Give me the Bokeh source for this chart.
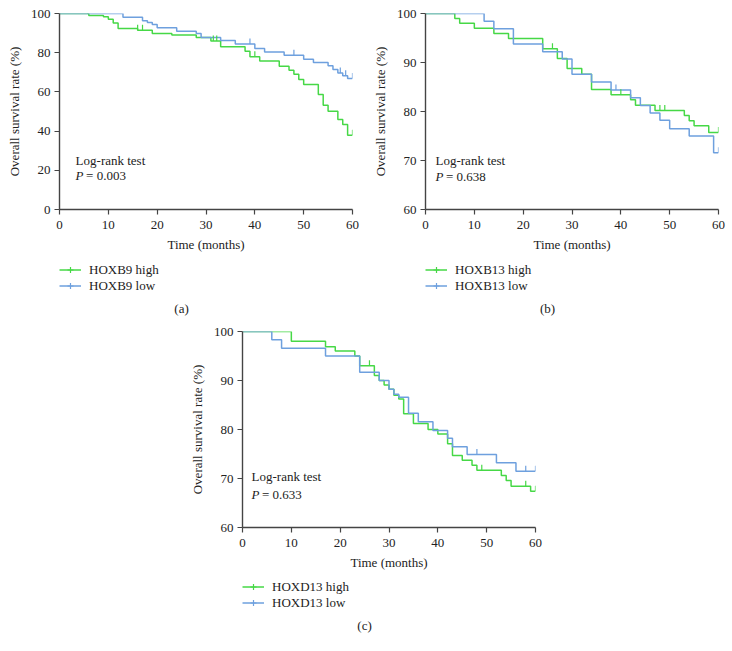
import numpy as np
from bokeh.plotting import figure
from bokeh.models import Range1d, Legend, LegendItem, Label, Spacer, FixedTicker
from bokeh.layouts import column, row
from bokeh.embed import file_html
from bokeh.resources import INLINE

# ---------------- data ----------------
x_ticks = [0, 10, 20, 30, 40, 50, 60]

# (a) HOXB9
a_names = ["HOXB9 high", "HOXB9 low"]
a_high_t = [0, 6, 9, 10, 11, 12, 16, 19, 23, 28, 31, 33, 38, 39, 41, 45, 47, 48, 49, 50, 53, 54, 55, 57, 58, 59]
a_high_s = [100, 99, 98.3, 97.1, 95.2, 92.3, 91.5, 89.8, 89, 87.8, 86, 83, 80.8, 77.9, 75.8, 73.1, 71.1, 69, 66.3, 63.8, 58.7, 53.2, 50.1, 45.9, 43.4, 37.9]
a_high_c = [5.8, 16, 17, 31.5, 32.2, 40, 60]
a_low_t = [0, 13, 17, 18, 19, 20, 24, 28, 29, 33, 36, 40, 42, 46, 50, 52, 55, 56, 57, 58, 59]
a_low_s = [100, 98.1, 96.3, 95.4, 94.4, 92.7, 91, 89.8, 87.8, 86.2, 84.4, 82.1, 80.4, 78.7, 76.7, 75, 73.3, 71.4, 69.7, 68.2, 66.8]
a_low_c = [39, 48, 57.5, 58.6, 60]
a_y_ticks = [0, 20, 40, 60, 80, 100]
a_p = "= 0.003"

# (b) HOXB13
b_names = ["HOXB13 high", "HOXB13 low"]
b_high_t = [0, 6, 7, 10, 14, 17, 24, 27, 29, 32, 34, 38, 42, 43, 47, 53, 54, 55, 58]
b_high_s = [100, 99, 98, 97, 95.9, 94.9, 92.8, 90.8, 88.8, 87.6, 84.5, 83.4, 82.4, 81.3, 80.2, 79.2, 78.1, 77.1, 75.7]
b_high_c = [26, 40, 48, 49, 60]
b_low_t = [0, 12, 14, 18, 24, 28, 30, 34, 38, 42, 44, 46, 48, 50, 54, 59]
b_low_s = [100, 98.4, 96.9, 93.8, 92.2, 90.7, 87.6, 86, 84.4, 82.8, 81.2, 79.7, 78.2, 76.5, 75, 71.6]
b_low_c = [39, 60]
b_y_ticks = [60, 70, 80, 90, 100]
b_p = "= 0.638"

# (c) HOXD13
c_names = ["HOXD13 high", "HOXD13 low"]
c_high_t = [0, 10, 17, 19, 23, 24, 27, 28, 29, 30, 31, 32, 33, 35, 38, 40, 42, 43, 45, 47, 48, 53, 54, 55, 59]
c_high_s = [100, 98, 96.9, 96, 95, 93, 91, 90, 89.1, 88.2, 87, 86.2, 83.2, 81.2, 80, 79.1, 77.1, 74.7, 73.7, 72.7, 71.7, 70.6, 69.6, 68.4, 67.4]
c_high_c = [26, 49, 58, 60]
c_low_t = [0, 6, 8, 17, 24, 28, 30, 31, 32, 34, 36, 39, 42, 43, 46, 52, 56]
c_low_s = [100, 98.3, 96.6, 95, 91.7, 90, 88.2, 87.2, 86.6, 83.3, 81.6, 79.8, 78.2, 76.5, 74.9, 73.2, 71.5]
c_low_c = [48, 58, 60]
c_y_ticks = [60, 70, 80, 90, 100]
c_p = "= 0.633"

GREEN = "#46d846"
BLUE = "#6ea0de"
FONT = "Liberation Serif"
AX = "#444444"
TXT = "#222222"
FRAME_W = 293
FRAME_H = 196


def step_vals(t, s, c):
    t = np.asarray(t, float)
    s = np.asarray(s, float)
    idx = np.searchsorted(t, np.asarray(c, float), side="right") - 1
    return s[idx]


def panel(mbl, mbr, mbt, ylo, yhi, yticks, ht, hs, hc, lt, ls, lc, txt_x, txt_y, p_y, ptext):
    mbb = 50
    p = figure(width=mbl + FRAME_W + mbr, height=mbt + FRAME_H + mbb,
               x_range=Range1d(0, 60), y_range=Range1d(ylo, yhi),
               output_backend="svg", toolbar_location=None,
               min_border_left=mbl, min_border_right=mbr, min_border_top=mbt, min_border_bottom=mbb)
    ppu = FRAME_H / (yhi - ylo)
    tick_h = 5.5 / ppu
    p.grid.visible = False
    p.outline_line_color = None
    p.xaxis.ticker = FixedTicker(ticks=x_ticks)
    p.yaxis.ticker = FixedTicker(ticks=yticks)
    p.xaxis.axis_label = "Time (months)"
    p.yaxis.axis_label = "Overall survival rate (%)"
    for ax in p.axis:
        ax.axis_line_color = AX
        ax.axis_line_width = 1.4
        ax.major_tick_line_color = AX
        ax.major_tick_line_width = 1.2
        ax.major_tick_out = 5
        ax.major_tick_in = 0
        ax.minor_tick_out = 0
        ax.minor_tick_in = 0
        ax.major_label_text_font = FONT
        ax.major_label_text_font_size = "13px"
        ax.major_label_text_color = TXT
        ax.axis_label_text_font = FONT
        ax.axis_label_text_font_size = "13px"
        ax.axis_label_text_font_style = "normal"
        ax.axis_label_text_color = TXT
    p.xaxis.major_label_standoff = 6
    p.xaxis.axis_label_standoff = 5
    p.yaxis.major_label_standoff = 4
    p.yaxis.axis_label_standoff = 6

    hx = list(ht) + [60]
    hy = list(hs) + [hs[-1]]
    lx = list(lt) + [60]
    ly = list(ls) + [ls[-1]]
    p.step(hx, hy, mode="after", line_color=GREEN, line_width=1.5)
    p.step(lx, ly, mode="after", line_color=BLUE, line_width=1.5)
    hcs = step_vals(ht, hs, hc)
    lcs = step_vals(lt, ls, lc)
    p.segment(x0=hc, y0=hcs, x1=hc, y1=hcs + tick_h, line_color=GREEN, line_width=1.2)
    p.segment(x0=lc, y0=lcs, x1=lc, y1=lcs + tick_h, line_color=BLUE, line_width=1.2)

    common = dict(text_font=FONT, text_font_size="13px", text_color=TXT, text_baseline="middle")
    p.add_layout(Label(x=txt_x, y=txt_y, text="Log-rank test", **common))
    p.add_layout(Label(x=txt_x, y=p_y, text="P", text_font_style="italic", **common))
    p.add_layout(Label(x=txt_x, y=p_y, x_offset=10.5, text=ptext, **common))
    return p


def legend_box(width, height, leg_y, cap_y, names, cap):
    # frame is aligned with the panel's frame above it by the column layout
    f = figure(width=width, height=height, x_range=Range1d(0, 60), y_range=Range1d(0, height),
               output_backend="svg", toolbar_location=None, x_axis_type=None, y_axis_type=None,
               min_border_left=0, min_border_right=0, min_border_top=0, min_border_bottom=0)
    f.grid.visible = False
    f.outline_line_color = None
    # legend proxies, placed outside the visible range
    gl = f.line(x=[-20, -10], y=[-50, -50], line_color=GREEN, line_width=1.5)
    gs = f.scatter(x=[-20], y=[-50], marker="cross", size=7, line_color=GREEN, line_width=1.2)
    bl = f.line(x=[-20, -10], y=[-50, -50], line_color=BLUE, line_width=1.5)
    bs = f.scatter(x=[-20], y=[-50], marker="cross", size=7, line_color=BLUE, line_width=1.2)
    leg = Legend(items=[LegendItem(label=names[0], renderers=[gl, gs], index=0),
                        LegendItem(label=names[1], renderers=[bl, bs], index=0)],
                 location=(0, leg_y), orientation="vertical",
                 glyph_width=22, glyph_height=15, label_height=15, label_standoff=8,
                 spacing=0, padding=0, margin=0,
                 label_text_font=FONT, label_text_font_size="13px", label_text_color=TXT,
                 border_line_alpha=0, background_fill_alpha=0)
    f.add_layout(leg)
    f.add_layout(Label(x=25, y=cap_y, text=cap, text_align="center", text_baseline="middle",
                       text_font=FONT, text_font_size="13px", text_color=TXT))
    return f


pa = panel(59, 16, 13, 0, 100, a_y_ticks, a_high_t, a_high_s, a_high_c,
           a_low_t, a_low_s, a_low_c, 3.3, 25.2, 17.5, a_p)
pb = panel(57, 14, 13, 60, 100, b_y_ticks, b_high_t, b_high_s, b_high_c,
           b_low_t, b_low_s, b_low_c, 2.05, 70.1, 66.7, b_p)
pc = panel(59, 15, 9, 60, 100, c_y_ticks, c_high_t, c_high_s, c_high_c,
           c_low_t, c_low_s, c_low_c, 1.85, 70.4, 66.8, c_p)

la = legend_box(368, 63, 28.5, 14, a_names, "(a)")
lb = legend_box(364, 63, 28.5, 14, b_names, "(b)")
lc = legend_box(367, 63, 29.5, 15, c_names, "(c)")

layout = column(row(column(pa, la), column(pb, lb)),
                row(Spacer(width=183, height=318), column(pc, lc)))

open("out.html", "w").write(file_html(layout, INLINE))
